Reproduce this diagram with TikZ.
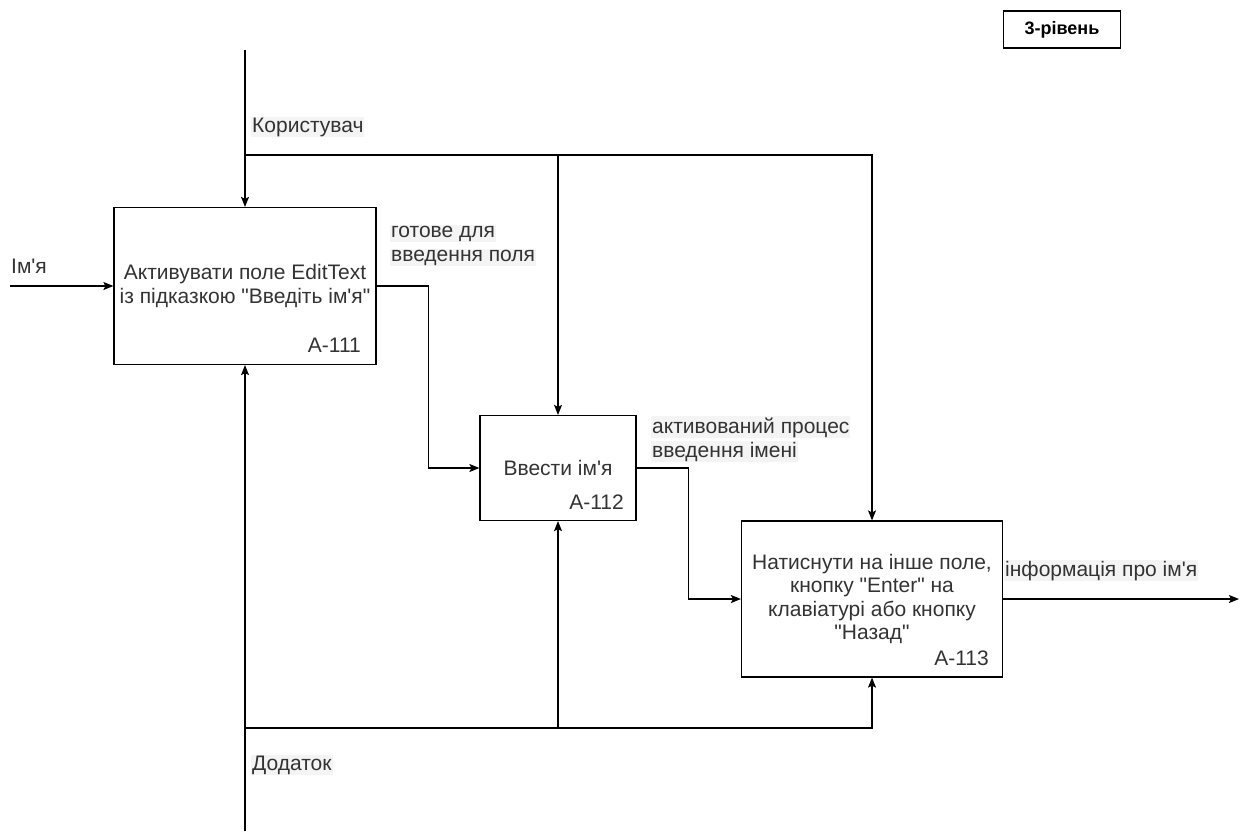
\documentclass[tikz,border=0pt]{standalone}
\usepackage{fontspec}
\newfontfamily\arialf{Liberation Sans}
\usetikzlibrary{arrows.meta}
\definecolor{txt}{HTML}{333333}
\definecolor{lblbg}{HTML}{F4F4F4}
\begin{document}
\begin{tikzpicture}[x=1pt,y=-1pt,
  every node/.style={font=\arialf\fontsize{21}{23.5}\selectfont, text=txt},
  fn/.style={draw=black, line width=1.2pt, align=center, inner sep=0pt},
  lbl/.style={fill=lblbg, inner sep=1pt, anchor=base west},
  plainlbl/.style={inner sep=1pt, anchor=base west},
  code/.style={anchor=base east, inner sep=0pt},
  conn/.style={line width=1.2pt, draw=black},
  arr/.style={conn, -{Stealth[length=10pt,width=8pt,inset=2pt]}}]
\useasboundingbox (0,0) rectangle (1241,831);

% level box
\node[draw=black, line width=1.2pt, minimum width=117pt, minimum height=37pt, inner sep=0pt,
      font=\arialf\bfseries\fontsize{18}{21}\selectfont, text=black] (lvl) at (1062,29.5) {3-рівень};

% function boxes
\node[fn, minimum width=262pt, minimum height=157pt] (b1) at (245,286)
  {Активувати поле EditText\\із підказкою "Введіть ім'я"};
\node[fn, minimum width=156pt, minimum height=105pt] (b2) at (558,468)
  {Ввести ім'я};
\node[fn, minimum width=261pt, minimum height=156pt] (b3) at (872,599)
  {Натиснути на інше поле,\\кнопку "Enter" на\\клавіатурі або кнопку\\"Назад"};

\node[code] (c1) at (361,352) {А-111};
\node[code] (c2) at (624,509) {А-112};
\node[code] (c3) at (989,665) {А-113};

% labels
\node[plainlbl] (l0) at (10,273) {Ім'я};
\node[lbl] (l1) at (251,132) {Користувач};
\node[lbl] (l2a) at (390,237) {готове для};
\node[lbl] (l2b) at (390,261) {введення поля};
\node[lbl] (l3a) at (651,433) {активований процес};
\node[lbl] (l3b) at (651,457) {введення імені};
\node[lbl] (l4) at (1004,576) {інформація про ім'я};
\node[lbl] (l5) at (251,770) {Додаток};

% control
\coordinate (ctop) at (245,50);
\coordinate (cj) at (245,155);
\draw[arr] (ctop) -- (b1.north);
\draw[arr] (cj) -| (b3.north);
\draw[arr] (cj -| b2.north) -- (b2.north);

% mechanism
\coordinate (mbot) at (245,831);
\coordinate (mj) at (245,728);
\draw[arr] (mbot) -- (b1.south);
\draw[arr] (mj) -| (b3.south);
\draw[arr] (mj -| b2.south) -- (b2.south);

% input / flows / output
\coordinate (inL) at (10,286);
\draw[arr] (inL) -- (b1.west);
\draw[arr] (b1.east) -- ++(52,0) |- (b2.west);
\draw[arr] (b2.east) -- ++(52,0) |- (b3.west);
\coordinate (outR) at (1239,599);
\draw[arr] (b3.east) -- (outR);
\end{tikzpicture}
\end{document}
